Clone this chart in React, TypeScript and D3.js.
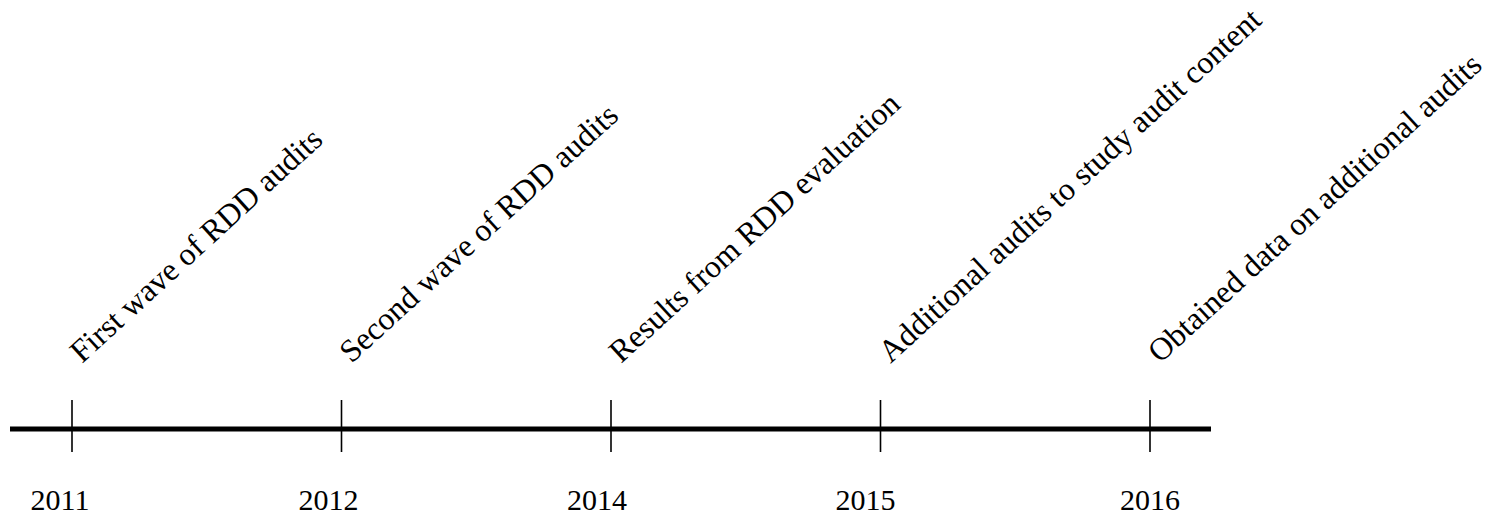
import React from "react";
import * as d3 from "d3";

const years: string[] = ["2011", "2012", "2014", "2015", "2016"];
const events: string[] = [
  "First wave of RDD audits",
  "Second wave of RDD audits",
  "Results from RDD evaluation",
  "Additional audits to study audit content",
  "Obtained data on additional audits",
];

const W = 1502;
const H = 521;
const lineY = 429;
const yearNudge = [-12, -13, -14, -15, 0];

export default function App() {
  const x = d3.scalePoint<string>().domain(years).range([72, 1150]);
  const font = "'Liberation Serif', 'Times New Roman', serif";
  return (
    <svg
      width={W}
      height={H}
      style={{ position: "absolute", left: 0, top: 0, display: "block", background: "#fff" }}
    >
      <line x1={10} x2={1211} y1={lineY} y2={lineY} stroke="#000" strokeWidth={5} />
      {years.map((yr, i) => {
        const cx = x(yr) as number;
        return (
          <g key={yr}>
            <line x1={cx} x2={cx} y1={400} y2={452} stroke="#000" strokeWidth={1.6} />
            <text
              x={cx + yearNudge[i]}
              y={510}
              textAnchor="middle"
              fontFamily={font}
              fontSize={30}
              fill="#000"
            >
              {yr}
            </text>
            <text
              transform={`translate(${cx + 10},${364}) rotate(-42.5)`}
              textAnchor="start"
              fontFamily={font}
              fontSize={32}
              fill="#000"
            >
              {events[i]}
            </text>
          </g>
        );
      })}
    </svg>
  );
}
